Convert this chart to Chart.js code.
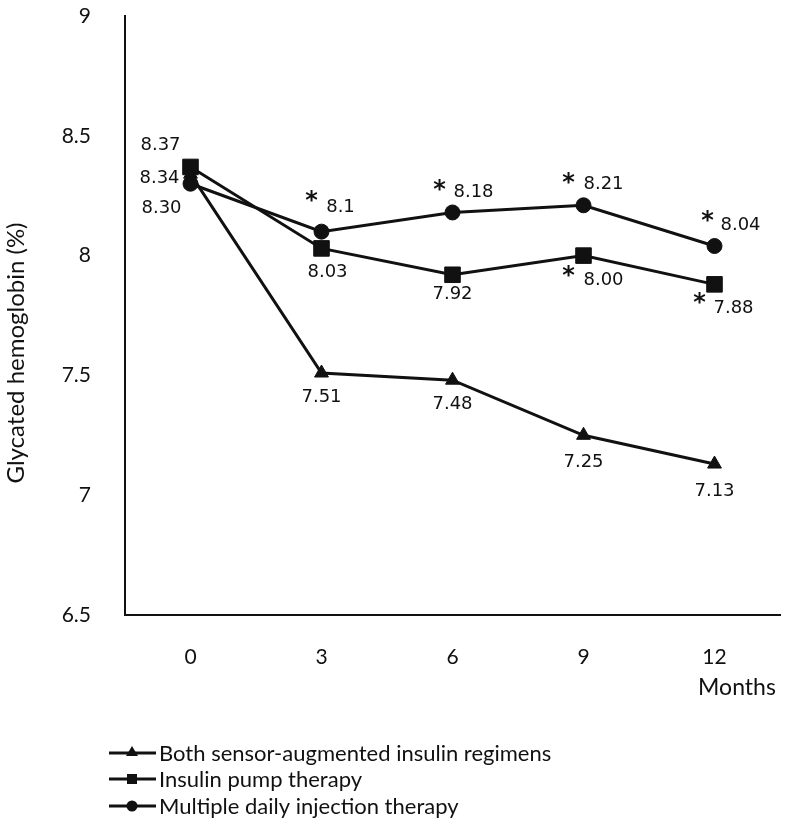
<!DOCTYPE html>
<html>
<head>
<meta charset="utf-8">
<script src="https://cdn.jsdelivr.net/npm/chart.js@4.4.1/dist/chart.umd.min.js"></script>
<style>
  html, body { margin: 0; padding: 0; background: #fff; }
  #wrap { width: 792px; height: 825px; position: relative; }
</style>
</head>
<body>
<div id="wrap"><canvas id="hba1c-chart"></canvas></div>
<script>
// --- DATOS ---
const months = ['0', '3', '6', '9', '12'];
const yTicks = [6.5, 7, 7.5, 8, 8.5, 9];
const sensorVals = [8.34, 7.51, 7.48, 7.25, 7.13];
const pumpVals = [8.37, 8.03, 7.92, 8.00, 7.88];
const mdiVals = [8.30, 8.1, 8.18, 8.21, 8.04];
const sensorText = ['8.34', '7.51', '7.48', '7.25', '7.13'];
const pumpText = ['8.37', '8.03', '7.92', '8.00', '7.88'];
const mdiText = ['8.30', '8.1', '8.18', '8.21', '8.04'];
const pumpStar = [false, false, false, true, true];
const mdiStar = [false, true, true, true, true];
const legendNames = [
    'Both sensor-augmented insulin regimens',
    'Insulin pump therapy',
    'Multiple daily injection therapy'
];

// placement of the value labels (dx, dy from the point) and asterisks
const sensorPos = [[-31, 4], [0, 24], [0, 24], [0, 27], [0, 27]];
const pumpPos = [[-30, -22], [6, 24], [0, 20], [20, 25], [19, 24]];
const pumpStarPos = [null, null, null, [-15, 16], [-15, 14]];
const mdiPos = [[-29, 25], [19, -24], [21, -20], [20, -21], [26, -21]];
const mdiStarPos = [null, [-10, -35], [-13, -27], [-15, -27], [-7, -29]];

const INK = '#111';
const axisFont = 'Lato, "Open Sans", sans-serif';
const labelFont = '"DejaVu Sans", Verdana, sans-serif';

// --- PLUGIN: etiquetas, asteriscos, títulos y leyenda ---
const annotatePlugin = {
    id: 'annotate',
    afterDatasetsDraw(chart) {
        const ctx = chart.ctx;
        const groups = [
            { idx: 0, text: sensorText, pos: sensorPos, star: null, starPos: null },
            { idx: 1, text: pumpText, pos: pumpPos, star: pumpStar, starPos: pumpStarPos },
            { idx: 2, text: mdiText, pos: mdiPos, star: mdiStar, starPos: mdiStarPos }
        ];
        ctx.save();
        ctx.fillStyle = INK;
        ctx.textAlign = 'center';
        ctx.textBaseline = 'middle';
        groups.forEach(g => {
            const meta = chart.getDatasetMeta(g.idx);
            meta.data.forEach((pt, i) => {
                ctx.font = '18px ' + labelFont;
                ctx.fillText(g.text[i], pt.x + g.pos[i][0], pt.y + g.pos[i][1]);
                if (g.star && g.star[i]) {
                    ctx.font = 'bold 24px ' + labelFont;
                    ctx.fillText('*', pt.x + g.starPos[i][0], pt.y + g.starPos[i][1] + 5);
                }
            });
        });
        ctx.restore();
    },
    afterDraw(chart) {
        const ctx = chart.ctx;
        const area = chart.chartArea;
        ctx.save();
        ctx.fillStyle = INK;
        ctx.textAlign = 'center';
        ctx.textBaseline = 'middle';

        // título eje Y
        ctx.save();
        ctx.translate(16, 353);
        ctx.rotate(-Math.PI / 2);
        ctx.font = '24px ' + axisFont;
        ctx.fillText('Glycated hemoglobin (%)', 0, 0);
        ctx.restore();

        ctx.font = '23px ' + axisFont;
        ctx.fillText('Months', 737, area.bottom + 73);

        // leyenda
        const styles = ['triangle', 'rect', 'circle'];
        const rowY = [753, 779, 806];
        styles.forEach((st, i) => {
            const y = rowY[i];
            ctx.strokeStyle = INK;
            ctx.lineWidth = 3;
            ctx.beginPath();
            ctx.moveTo(109, y);
            ctx.lineTo(156, y);
            ctx.stroke();
            ctx.beginPath();
            if (st === 'triangle') {
                ctx.moveTo(132, y - 7);
                ctx.lineTo(138, y + 3);
                ctx.lineTo(126, y + 3);
                ctx.closePath();
            } else if (st === 'rect') {
                ctx.rect(127, y - 5, 10, 10);
            } else {
                ctx.arc(132, y, 5.5, 0, Math.PI * 2);
            }
            ctx.fill();
            ctx.textAlign = 'left';
            ctx.font = '22px ' + axisFont;
            ctx.fillText(legendNames[i], 159, y + 1);
        });
        ctx.restore();
    }
};

// --- GRÁFICA ---
const ctx = document.getElementById('hba1c-chart').getContext('2d');
const lineBase = { borderColor: INK, backgroundColor: INK, borderWidth: 3, pointBorderWidth: 1, tension: 0 };
const hba1cChart = new Chart(ctx, {
    type: 'line',
    data: {
        labels: months,
        datasets: [
            { ...lineBase, label: legendNames[0], data: sensorVals, pointStyle: 'triangle', pointRadius: 8 },
            { ...lineBase, label: legendNames[1], data: pumpVals, pointStyle: 'rect', pointRadius: 11 },
            { ...lineBase, label: legendNames[2], data: mdiVals, pointStyle: 'circle', pointRadius: 7.5 }
        ]
    },
    options: {
        responsive: true, maintainAspectRatio: false, animation: false,
        layout: { padding: { top: 16, left: 0, right: 2, bottom: 0 } },
        plugins: { legend: { display: false }, tooltip: { enabled: false } },
        scales: {
            x: {
                offset: true,
                grid: { display: false },
                border: { display: true, color: INK, width: 2 },
                ticks: { color: INK, font: { family: axisFont, size: 21 }, padding: 22 },
                afterFit(scale) { scale.height = 210; }
            },
            y: {
                min: 6.5, max: 9,
                grid: { display: false },
                border: { display: true, color: INK, width: 2 },
                afterBuildTicks(scale) { scale.ticks = yTicks.map(v => ({ value: v })); },
                ticks: { color: INK, font: { family: axisFont, size: 21 }, padding: 26,
                         callback: v => String(v) },
                afterFit(scale) {
                    scale.width = 125;
                    scale.paddingTop = 0;
                    scale.paddingBottom = 0;
                }
            }
        }
    },
    plugins: [annotatePlugin]
});
</script>
</body>
</html>
